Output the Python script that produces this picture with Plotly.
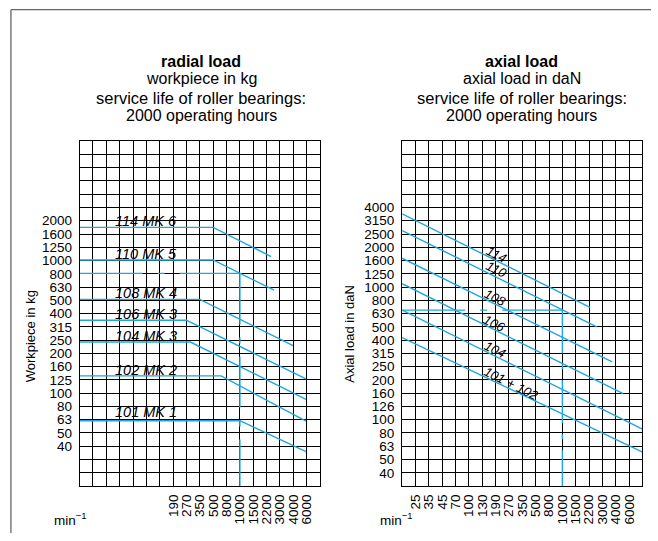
import math
import plotly.graph_objects as go

W, H = 658, 541
FONT = "Liberation Sans, Arial, Helvetica, sans-serif"
BLUE = "#1BA6E2"

# ---------------- data ----------------
# speed tick labels (min^-1) on grid column lines
RIGHT_SPEEDS = ["25", "35", "45", "70", "100", "130", "190", "270", "350", "500",
                "800", "1000", "1500", "2200", "3000", "4000", "6000"]
LEFT_SPEEDS = ["190", "270", "350", "500", "800", "1000", "1500", "2200", "3000",
               "4000", "6000"]
RIGHT_SPEED_FIRST_COL = 1
LEFT_SPEED_FIRST_COL = 7
N_COLS = 18

# load tick labels (R10 series, one per grid row line)
LEFT_LOADS = ["40", "50", "63", "80", "100", "125", "160", "200", "250", "315",
              "400", "500", "630", "800", "1000", "1250", "1600", "2000"]
RIGHT_LOADS = ["40", "50", "63", "80", "100", "126", "160", "200", "250", "315",
               "400", "500", "630", "800", "1000", "1250", "1600", "2000", "2500",
               "3150", "4000"]
LEFT_LOG_RANGE = (1.3, 3.9)    # 20 .. 8000 kg
RIGHT_LOG_RANGE = (1.5, 4.1)   # 31.5 .. 12600 daN
FIRST_LABEL_DECILE = 16        # "40" sits on 10^1.6

# radial load curves (x in grid columns, y in kg)
RADIAL_NAMES = ["114 MK 6", "110 MK 5", "108 MK 4", "106 MK 3", "104 MK 3",
                "102 MK 2", "101 MK 1"]
RADIAL_X = [[0, 10, 14.34], [0, 10, 14.56], [0, 9, 15.98], [0, 8, 16.95],
            [0, 8.29, 16.95], [0, 10.6, 16.95], [0, 12, 16.95]]
RADIAL_Y = [[1780, 1780, 1072], [1010, 1010, 598], [510, 510, 228],
            [355, 355, 128], [243, 243, 90], [135, 135, 61.5], [62, 62, 36.3]]
RADIAL_REF_LOAD = 800
RADIAL_REF_COL = 12

# axial load curves (x in grid columns, y in daN)
AXIAL_NAMES = ["114", "110", "108", "106", "104", "101 + 102"]
AXIAL_X = [[0, 14.07], [0, 14.58], [0, 15.73], [0, 16.55], [0, 18], [0, 18]]
AXIAL_Y = [[3570, 703], [2670, 501], [1650, 273], [1060, 157], [670, 85], [416, 57]]
AXIAL_REF_LOAD = 670
AXIAL_REF_COL = 12

# ---------------- layout geometry ----------------
GRID_TOP, GRID_BOTTOM = 138.0, 492.7
LEFT_X0, LEFT_X1 = 73.3, 319.3
RIGHT_X0, RIGHT_X1 = 403.3, 649.3


def px(x):
    return x / W


def py(y):
    return 1 - y / H


fig = go.Figure()


def add_lines(xs, ys, xa, ya):
    for x, y in zip(xs, ys):
        fig.add_trace(go.Scatter(x=x, y=y, mode="lines", xaxis=xa, yaxis=ya,
                                 line=dict(color=BLUE, width=1.4),
                                 hoverinfo="skip", showlegend=False))


add_lines(RADIAL_X, RADIAL_Y, "x", "y")
add_lines(AXIAL_X, AXIAL_Y, "x2", "y2")

# reference (reading example) lines at 1000 min^-1
for xa, ya, load, col, lo, hdash, vdash in [
        ("x", "y", RADIAL_REF_LOAD, RADIAL_REF_COL, 10 ** LEFT_LOG_RANGE[0],
         "63px,15px,7px,15px", "51px,13px,6px,13px"),
        ("x2", "y2", AXIAL_REF_LOAD, AXIAL_REF_COL, 10 ** RIGHT_LOG_RANGE[0],
         "63px,15px,7px,15px", "43px,11px,5px,11px")]:
    fig.add_trace(go.Scatter(x=[0, col], y=[load, load], mode="lines", xaxis=xa, yaxis=ya,
                             line=dict(color=BLUE, width=1.4, dash=hdash),
                             hoverinfo="skip", showlegend=False))
    fig.add_trace(go.Scatter(x=[col, col], y=[load, lo], mode="lines", xaxis=xa, yaxis=ya,
                             line=dict(color=BLUE, width=1.4, dash=vdash),
                             hoverinfo="skip", showlegend=False))


def x_axis(labels, first, domain):
    text = [" "] * (N_COLS + 1)
    for j, t in enumerate(labels):
        text[first + j] = t
    return dict(domain=domain, range=[0, N_COLS], tickmode="array",
                tickvals=list(range(N_COLS + 1)), ticktext=text, tickangle=-90,
                showgrid=True, gridcolor="black", gridwidth=1, zeroline=False,
                showline=True, linecolor="black", linewidth=1, mirror=True,
                ticks="", ticklabelstandoff=2,
                tickfont=dict(family=FONT, size=13.5, color="black"),
                fixedrange=True)


def y_axis(labels, rng, domain, anchor):
    k0, k1 = int(round(rng[0] * 10)), int(round(rng[1] * 10))
    vals, text = [], []
    for k in range(k0, k1 + 1):
        vals.append(10 ** (k / 10))
        j = k - FIRST_LABEL_DECILE
        text.append(labels[j] if 0 <= j < len(labels) else " ")
    return dict(domain=domain, type="log", range=list(rng), tickmode="array",
                tickvals=vals, ticktext=text, anchor=anchor,
                showgrid=True, gridcolor="black", gridwidth=1, zeroline=False,
                showline=True, linecolor="black", linewidth=1, mirror=True,
                ticks="", ticklabelstandoff=4,
                tickfont=dict(family=FONT, size=13.5, color="black"),
                fixedrange=True)


ydom = [py(GRID_BOTTOM), py(GRID_TOP)]
fig.update_layout(
    width=W, height=H, margin=dict(l=0, r=0, t=0, b=0),
    paper_bgcolor="white", plot_bgcolor="white",
    xaxis=x_axis(LEFT_SPEEDS, LEFT_SPEED_FIRST_COL, [px(LEFT_X0), px(LEFT_X1)]),
    yaxis=y_axis(LEFT_LOADS, LEFT_LOG_RANGE, ydom, "x"),
    xaxis2=x_axis(RIGHT_SPEEDS, RIGHT_SPEED_FIRST_COL, [px(RIGHT_X0), px(RIGHT_X1)]),
    yaxis2=y_axis(RIGHT_LOADS, RIGHT_LOG_RANGE, ydom, "x2"),
    showlegend=False,
)
fig.layout.xaxis2.anchor = "y2"
fig.layout.xaxis.anchor = "y"

ann = []


def text(x, y, s, size=16, **kw):
    ann.append(dict(x=px(x), y=py(y), xref="paper", yref="paper", text=s,
                    showarrow=False, font=dict(family=FONT, size=size, color="black"),
                    **kw))


# titles
for cx, lines in [(198, ["<b>radial load</b>", "workpiece in kg",
                         "service life of roller bearings:", "2000 operating hours"]),
                  (525.5, ["<b>axial load</b>", "axial load in daN",
                           "service life of roller bearings:", "2000 operating hours"])]:
    for s, yy, sz in zip(lines, [55.7, 74, 93.5, 111.5], [16, 16, 16.5, 16]):
        text(cx, yy, s, size=sz, xanchor="center", yanchor="middle")

# axis titles
text(23.3, 339, "Workpiece in kg", size=13, textangle=-90, xanchor="center", yanchor="middle")
text(350, 336, "Axial load in daN", size=13, textangle=-90, xanchor="center", yanchor="middle")
text(64, 527, "min<sup>−1</sup>", size=13.5, xanchor="center", yanchor="middle")
text(397.5, 527, "min<sup>−1</sup>", size=13.5, xanchor="center", yanchor="middle")

# curve labels, radial: sitting on the horizontal segment
for name, y in zip(RADIAL_NAMES, RADIAL_Y):
    base = y[0] * (1.05 if name == "101 MK 1" else 1.0)
    ann.append(dict(x=2.5, y=math.log10(base), xref="x", yref="y",
                    text="<i>" + name + "</i>",
                    showarrow=False, xanchor="left", yanchor="bottom", yshift=-4,
                    font=dict(family=FONT, size=14.5, color="black")))

# curve labels, axial: rotated along the lines
AXIAL_LABEL_POS = [(7.07, 1750), (7.07, 1368), (6.93, 832), (6.89, 530), (6.95, 337),
                   (8.17, 189)]
for name, (lx, ly) in zip(AXIAL_NAMES, AXIAL_LABEL_POS):
    ann.append(dict(x=lx, y=math.log10(ly), xref="x2", yref="y2",
                    text="<i>" + name + "</i>",
                    showarrow=False, xanchor="center", yanchor="middle", textangle=26.6,
                    font=dict(family=FONT, size=13, color="black")))

fig.update_layout(annotations=ann)

# outer frame (top and left edges visible)
fig.add_shape(type="line", xref="paper", yref="paper", x0=px(3), x1=1, y0=py(2.7),
              y1=py(2.7), line=dict(color="#666", width=1.3))
fig.add_shape(type="line", xref="paper", yref="paper", x0=px(3), x1=px(3), y0=py(2.7),
              y1=0, line=dict(color="#666", width=1.3))

POST = ("document.body.style.margin='0px';"
        "var d=document.getElementsByClassName('plotly-graph-div')[0];"
        "if(d){d.style.position='absolute';d.style.left='0px';d.style.top='0px';}")
fig.write_html("out.html", config=dict(displayModeBar=False, responsive=False),
               post_script=POST)
